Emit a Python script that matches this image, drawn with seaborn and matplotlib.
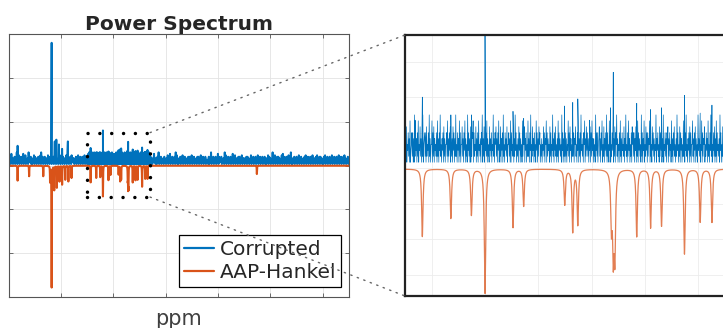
import numpy as np
import pandas as pd
import matplotlib
matplotlib.use("Agg")
import matplotlib.pyplot as plt
import seaborn as sns
from matplotlib.patches import Rectangle, ConnectionPatch

# ---------------- data ----------------
# AAP-Hankel (recovered) peaks: centre (ppm) and depth (drawn downwards)
recovered_ppm = [0.17, 0.39, 0.66, 0.79, 0.82, 0.87, 0.92, 0.97, 1.02, 1.08, 1.14, 1.20,
                 1.565, 1.672, 1.749, 1.800, 1.905, 1.945, 2.099, 2.129, 2.148,
                 2.274, 2.281, 2.287, 2.369, 2.421, 2.462, 2.548, 2.607, 2.651, 4.74]
recovered_depth = [0.34, 0.24, 0.24, 0.36, 2.78, 0.55, 0.50, 0.36, 0.43, 0.32, 0.36, 0.28,
                   0.38, 0.28, 0.26, 0.70, 0.33, 0.21, 0.20, 0.35, 0.31,
                   0.30, 0.44, 0.46, 0.38, 0.33, 0.32, 0.48, 0.30, 0.30, 0.19]
recovered_halfwidth = 0.003
recovered_offset = 0.005

# Corrupted spectrum: tall spikes (ppm, height)
spike_ppm = [0.17, 0.62, 0.82, 0.88, 0.91, 0.96, 1.02, 1.13,
             1.538, 1.565, 1.672, 1.749, 1.800, 1.905, 1.945, 2.098, 2.129, 2.148,
             2.192, 2.271, 2.281, 2.369, 2.421, 2.462, 2.548, 2.607, 2.651]
spike_height = [0.45, 0.30, 2.80, 0.55, 0.59, 0.48, 0.38, 0.55,
                0.27, 0.40, 0.30, 0.30, 0.80, 0.32, 0.28, 0.35, 0.37, 0.39,
                0.27, 0.34, 0.54, 0.365, 0.33, 0.34, 0.41, 0.31, 0.355]

# Corrupted spectrum noise floor, one digit per sample, value = digit / 30
noise_left = ("1524182514361529142715261438162714251934"
              "2615142716351426152714361526142517361425"
              "1426153716241527143616251427153614261735"
              "25142615371426153614271526")
noise_zoom = ("15271436251813462615192435162814372516291456261724"
              "36192514481627153426182516392415361725144628152637"
              "14251736152924163518261447251638152419362517142658"
              "16243715261834251649152714362815241735261439251647"
              "25163814271536192416352714462518163427152936142517"
              "36152418264715361428251639142735162418361527461425"
              "14372615481625341726143925163724152816352419361527"
              "16251438261735142926154724163815261934251648152736"
              "25143716283515241936261457251638142715362916241835"
              "14263815271649251436182516342715392416283514261746"
              "26153714281635241926153814273616254815241736251439"
              "15362417263815291436251647152634182516372415293614"
              "27163514282516392415361726144825163715241935261438"
              "16254714263518241639251436271528163425193614271546")
noise_right = ("26141538251416291526143516241537142815261436192714"
               "15261427153614251626143715261425163614271526153614"
               "24161529143615261428162536142519271436152614281637"
               "15241626143715251426163514271526143615271426153615"
               "26141527163514291527143616251427183614261537142915"
               "14261536152714261435162715261436152714251637142616"
               "25141627153614261527143615261437152614261735142615")

ppm_range = (0.0, 6.5)
zoom_xrange = (1.5, 2.7)
zoom_yrange = (-0.72, 0.75)
main_yrange = (-3.0, 3.0)
main_xticks = [1, 2, 3, 4, 5, 6]
main_yticks = [-2, -1, 0, 1, 2]
zoom_xticks = [1.6, 1.8, 2.0, 2.2, 2.4, 2.6]
zoom_yticks = [-0.6, -0.4, -0.2, 0.0, 0.2, 0.4, 0.6]

# ---------------- build the series ----------------
def digits(s):
    return np.array([int(c) for c in s], dtype=float) / 30.0

n_l, n_z, n_r = digits(noise_left), digits(noise_zoom), digits(noise_right)
x_left = np.linspace(ppm_range[0], zoom_xrange[0], len(n_l), endpoint=False)
x_zoom = np.linspace(zoom_xrange[0], zoom_xrange[1], len(n_z), endpoint=False)
x_right = np.linspace(zoom_xrange[1], ppm_range[1], len(n_r))
bx = np.concatenate([x_left, x_zoom, x_right, np.array(spike_ppm)])
by = np.concatenate([n_l, n_z, n_r, np.array(spike_height)])
order = np.argsort(bx, kind="stable")
blue = pd.DataFrame({"ppm": bx[order], "value": by[order]})

ox = np.linspace(ppm_range[0], ppm_range[1], 12000)
g = recovered_halfwidth
oy = np.full_like(ox, recovered_offset)
for p, d in zip(recovered_ppm, recovered_depth):
    oy += d * g ** 2 / ((ox - p) ** 2 + g ** 2)
orange = pd.DataFrame({"ppm": ox, "value": -oy})

# ---------------- figure ----------------
sns.set_style("whitegrid")
plt.rcParams["font.family"] = ["DejaVu Sans"]

BLUE = "#0072BD"
ORANGE = "#D95319"
W, H = 723, 328
fig = plt.figure(figsize=(W / 100, H / 100), dpi=100)

ax = fig.add_axes([8.7 / W, (H - 297) / H, 340.3 / W, 263 / H])
sns.lineplot(data=blue, x="ppm", y="value", ax=ax, color=BLUE, lw=1.4,
             estimator=None, sort=False, label="Corrupted")
sns.lineplot(data=orange, x="ppm", y="value", ax=ax, color=ORANGE, lw=1.5,
             estimator=None, sort=False, label="AAP-Hankel")
ax.set_xlim(*ppm_range)
ax.set_ylim(*main_yrange)
ax.set_xticks(main_xticks)
ax.set_yticks(main_yticks)
ax.set_xticklabels([])
ax.set_yticklabels([])
ax.set_ylabel("")
ax.set_xlabel("ppm", fontsize=15, color="#404040", labelpad=5)
ax.set_title("Power Spectrum", fontsize=14.5, fontweight="bold", pad=3)
ax.grid(True, color="#e3e3e3", lw=0.6)
ax.tick_params(direction="in", length=3, width=0.6, color="#555555",
               top=True, right=True, bottom=True, left=True)
for s in ax.spines.values():
    s.set_color("#555555")
    s.set_linewidth(0.8)

leg = ax.legend(loc="lower right", bbox_to_anchor=(0.9765, 0.038), borderaxespad=0,
                fontsize=14.5, frameon=True, fancybox=False, framealpha=1,
                edgecolor="black", handlelength=1.5, handletextpad=0.25,
                labelspacing=0.2, borderpad=0.25)
leg.get_frame().set_linewidth(0.9)
for ln in leg.get_lines():
    ln.set_linewidth(1.6)

# zoom box
box = Rectangle((zoom_xrange[0], zoom_yrange[0]), zoom_xrange[1] - zoom_xrange[0],
                zoom_yrange[1] - zoom_yrange[0], fill=False, edgecolor="black",
                lw=2.5, linestyle=(0, (0.01, 3.4)), capstyle="round", zorder=5)
ax.add_patch(box)

# inset
ax2 = fig.add_axes([405 / W, (H - 296) / H, 320 / W, 261 / H])
sns.lineplot(data=blue, x="ppm", y="value", ax=ax2, color=BLUE, lw=0.5,
             estimator=None, sort=False, legend=False)
sns.lineplot(data=orange, x="ppm", y="value", ax=ax2, color=ORANGE, lw=0.9,
             estimator=None, sort=False, legend=False, alpha=0.75)
ax2.set_xlim(*zoom_xrange)
ax2.set_ylim(*zoom_yrange)
ax2.set_xticks(zoom_xticks)
ax2.set_yticks(zoom_yticks)
ax2.set_xticklabels([])
ax2.set_yticklabels([])
ax2.set_xlabel("")
ax2.set_ylabel("")
ax2.grid(True, color="#ececec", lw=0.6)
ax2.tick_params(length=0)
for s in ax2.spines.values():
    s.set_color("#222222")
    s.set_linewidth(1.6)

for (xa, ya), yb in [((zoom_xrange[1], zoom_yrange[1]), 1.0),
                     ((zoom_xrange[1], zoom_yrange[0]), 0.0)]:
    con = ConnectionPatch(xyA=(xa, ya), coordsA=ax.transData,
                          xyB=(0.0, yb), coordsB=ax2.transAxes,
                          color="#666666", lw=1.0, linestyle=(0, (1, 4)), zorder=6)
    fig.add_artist(con)

fig.savefig("out.png", dpi=100)
